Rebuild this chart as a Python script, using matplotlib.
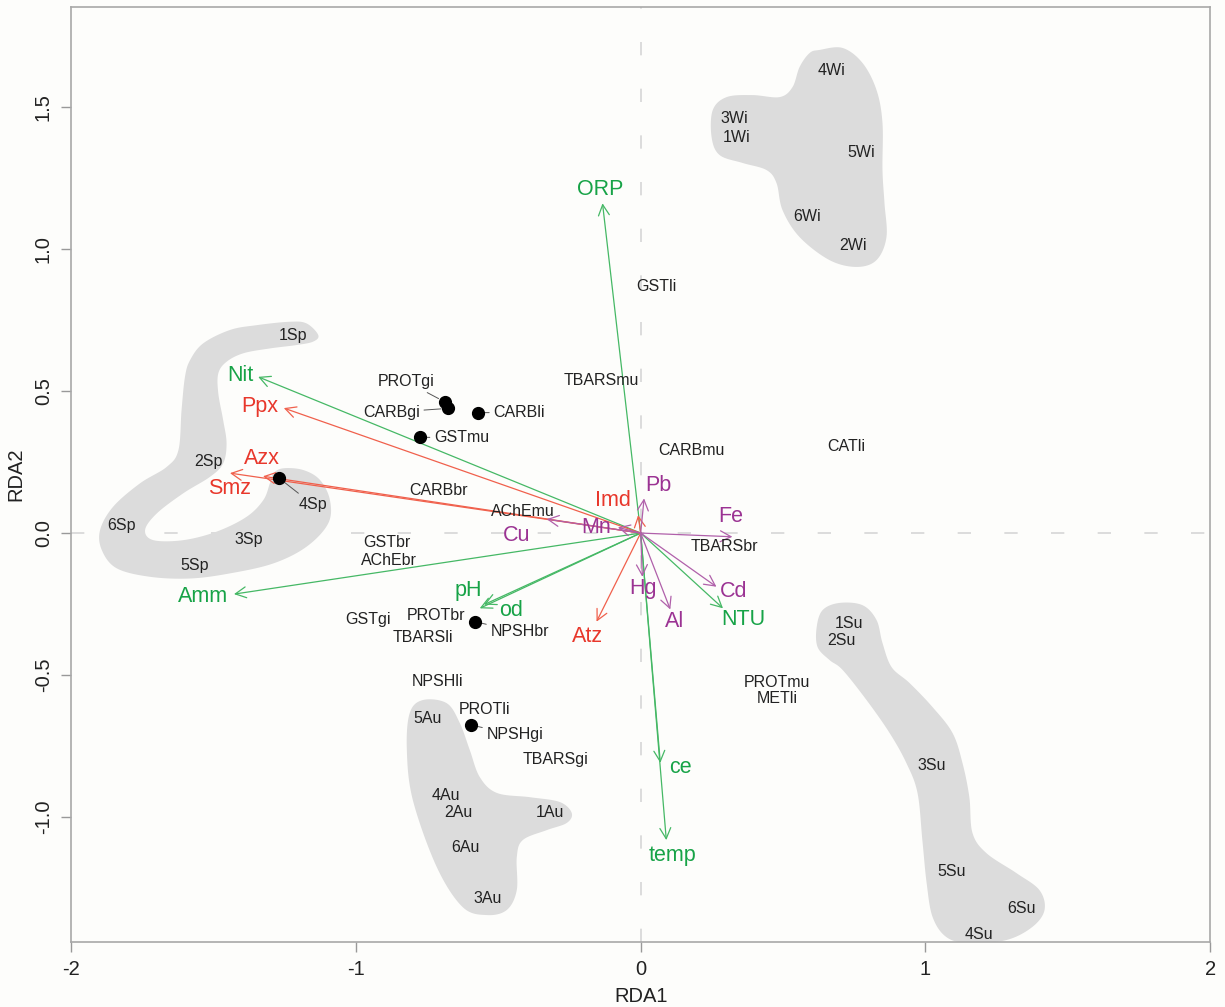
import numpy as np
import matplotlib
matplotlib.use("Agg")
import matplotlib.pyplot as plt

plt.rcParams["font.family"] = ["Liberation Sans", "DejaVu Sans"]
plt.rcParams["axes.unicode_minus"] = False

# environmental / pesticide / metal arrows (RDA1, RDA2 tips)
arrow_names = ["ORP", "Nit", "Amm", "pH", "od", "NTU", "ce", "temp",
               "Ppx", "Azx", "Smz", "Imd", "Atz",
               "Pb", "Fe", "Cd", "Al", "Hg", "Mn", "Cu"]
arrow_group = ["env"] * 8 + ["pest"] * 5 + ["metal"] * 7
arrow_x = [-0.134, -1.343, -1.428, -0.565, -0.55, 0.289, 0.069, 0.090,
           -1.253, -1.326, -1.442, -0.009, -0.155,
           0.012, 0.322, 0.266, 0.104, 0.006, -0.080, -0.330]
arrow_y = [1.161, 0.550, -0.215, -0.265, -0.252, -0.265, -0.809, -1.081,
           0.440, 0.200, 0.211, 0.063, -0.312,
           0.122, -0.013, -0.189, -0.269, -0.154, 0.020, 0.049]
arrow_lab_x = [-0.141, -1.407, -1.536, -0.606, -0.454, 0.359, 0.140, 0.111,
               -1.337, -1.331, -1.442, -0.097, -0.185,
               0.061, 0.318, 0.326, 0.119, 0.008, -0.155, -0.436]
arrow_lab_y = [1.208, 0.556, -0.222, -0.201, -0.271, -0.306, -0.826, -1.134,
               0.445, 0.263, 0.157, 0.116, -0.365,
               0.169, 0.057, -0.207, -0.312, -0.195, 0.020, -0.007]

# sampling sites (season labels)
site_names = ["1Sp", "2Sp", "3Sp", "4Sp", "5Sp", "6Sp",
              "1Wi", "2Wi", "3Wi", "4Wi", "5Wi", "6Wi",
              "1Su", "2Su", "3Su", "4Su", "5Su", "6Su",
              "1Au", "2Au", "3Au", "4Au", "5Au", "6Au"]
site_x = [-1.220, -1.518, -1.378, -1.152, -1.565, -1.822,
          0.338, 0.747, 0.330, 0.669, 0.774, 0.584,
          0.731, 0.704, 1.022, 1.186, 1.091, 1.336,
          -0.319, -0.641, -0.538, -0.685, -0.750, -0.614]
site_y = [0.697, 0.251, -0.022, 0.101, -0.113, 0.025,
          1.393, 1.014, 1.460, 1.628, 1.339, 1.114,
          -0.320, -0.379, -0.819, -1.412, -1.193, -1.321,
          -0.983, -0.983, -1.286, -0.925, -0.652, -1.107]

# biomarker responses
bio_names = ["GSTli", "TBARSmu", "CARBmu", "CATli", "CARBbr", "AChEmu",
             "GSTbr", "AChEbr", "TBARSbr", "GSTgi", "PROTbr", "TBARSli",
             "NPSHli", "PROTli", "TBARSgi", "PROTmu", "METli"]
bio_x = [0.055, -0.138, 0.178, 0.723, -0.711, -0.413,
         -0.892, -0.883, 0.295, -0.957, -0.719, -0.764,
         -0.715, -0.547, -0.298, 0.477, 0.481]
bio_y = [0.867, 0.536, 0.292, 0.306, 0.149, 0.075,
         -0.034, -0.095, -0.048, -0.304, -0.292, -0.369,
         -0.524, -0.621, -0.799, -0.525, -0.581]

# biomarkers shown as points with displaced labels
pt_names = ["PROTgi", "CARBgi", "CARBli", "GSTmu", "NPSHbr", "NPSHgi", "4Sp"]
pt_x = [-0.688, -0.676, -0.571, -0.775, -0.582, -0.594, -1.269]
pt_y = [0.462, 0.439, 0.424, 0.337, -0.312, -0.676, 0.193]
pt_lab_x = [-0.822, -0.875, -0.427, -0.629, -0.425, -0.442, None]
pt_lab_y = [0.533, 0.425, 0.424, 0.337, -0.348, -0.711, None]

# season hull outlines
hull_sp_x = [-1.132, -1.173, -1.232, -1.348, -1.442, -1.536, -1.582, -1.600,
             -1.612, -1.623, -1.664, -1.758, -1.852, -1.898, -1.892, -1.840,
             -1.723, -1.582, -1.442, -1.290, -1.173, -1.097, -1.091, -1.126,
             -1.185, -1.255, -1.290, -1.302, -1.325, -1.384, -1.489, -1.606,
             -1.711, -1.740, -1.699, -1.606, -1.512, -1.466, -1.454, -1.466,
             -1.483, -1.483, -1.454, -1.395, -1.302, -1.208, -1.150]
hull_sp_y = [0.697, 0.738, 0.744, 0.732, 0.715, 0.668, 0.609, 0.550,
             0.433, 0.292, 0.233, 0.175, 0.093, 0.011, -0.060, -0.124,
             -0.154, -0.160, -0.142, -0.107, -0.048, 0.034, 0.116, 0.187,
             0.222, 0.228, 0.210, 0.175, 0.116, 0.057, 0.005, -0.025,
             -0.025, 0.011, 0.069, 0.140, 0.198, 0.245, 0.316, 0.398,
             0.492, 0.562, 0.603, 0.633, 0.650, 0.662, 0.674]
hull_wi_x = [0.628, 0.709, 0.779, 0.828, 0.849, 0.849, 0.856, 0.863, 0.828,
             0.758, 0.663, 0.558, 0.498, 0.477, 0.442, 0.358, 0.277, 0.249,
             0.253, 0.302, 0.393, 0.488, 0.533, 0.558, 0.593]
hull_wi_y = [1.701, 1.708, 1.655, 1.560, 1.444, 1.278, 1.162, 1.042, 0.961,
             0.937, 0.961, 1.042, 1.137, 1.232, 1.278, 1.303, 1.331, 1.394,
             1.489, 1.535, 1.542, 1.535, 1.570, 1.641, 1.690]
hull_su_x = [0.698, 0.779, 0.828, 0.849, 0.881, 0.944, 1.025, 1.095, 1.130,
             1.154, 1.165, 1.214, 1.319, 1.400, 1.418, 1.375, 1.284, 1.154,
             1.074, 1.025, 1.004, 0.989, 0.972, 0.933, 0.874, 0.793, 0.709,
             0.663, 0.621, 0.618, 0.639]
hull_su_y = [-0.246, -0.254, -0.306, -0.387, -0.472, -0.528, -0.613, -0.704,
             -0.810, -0.930, -1.056, -1.127, -1.197, -1.257, -1.327, -1.387,
             -1.433, -1.444, -1.423, -1.352, -1.232, -1.081, -0.915, -0.810,
             -0.704, -0.588, -0.482, -0.447, -0.401, -0.331, -0.271]
hull_au_x = [-0.765, -0.681, -0.635, -0.600, -0.565, -0.505, -0.389, -0.284,
             -0.242, -0.260, -0.330, -0.414, -0.435, -0.435, -0.470, -0.540,
             -0.625, -0.716, -0.800, -0.821, -0.811]
hull_au_y = [-0.588, -0.599, -0.669, -0.764, -0.859, -0.915, -0.930, -0.947,
             -0.986, -1.021, -1.046, -1.081, -1.141, -1.257, -1.327, -1.345,
             -1.317, -1.176, -0.940, -0.764, -0.634]

line_col = {"env": "#45b865", "pest": "#f0604c", "metal": "#b060aa"}
text_col = {"env": "#17a347", "pest": "#e8372b", "metal": "#9b3393"}
dark = "#222222"
bg = "#fdfdfb"


def smooth_closed(xs, ys, n=12):
    # closed Catmull-Rom curve through the outline points
    p = np.column_stack([xs, ys])
    m = len(p)
    t = np.linspace(0, 1, n, endpoint=False)[:, None]
    out = []
    for i in range(m):
        p0, p1, p2, p3 = p[i - 1], p[i], p[(i + 1) % m], p[(i + 2) % m]
        seg = 0.5 * (2 * p1 + (-p0 + p2) * t
                     + (2 * p0 - 5 * p1 + 4 * p2 - p3) * t ** 2
                     + (-p0 + 3 * p1 - 3 * p2 + p3) * t ** 3)
        out.append(seg)
    return np.vstack(out)


fig = plt.figure(figsize=(12.25, 10.07), dpi=100, facecolor=bg)
ax = fig.add_axes([0.058, 0.0645, 0.930, 0.9285], facecolor=bg)

# zero lines
ax.axhline(0, color="#d6d6d6", lw=1.2, ls=(0, (8, 20)), zorder=0.5)
ax.axvline(0, color="#d6d6d6", lw=1.2, ls=(0, (8, 20)), zorder=0.5)

# season hulls
for hx, hy in [(hull_sp_x, hull_sp_y), (hull_wi_x, hull_wi_y),
               (hull_su_x, hull_su_y), (hull_au_x, hull_au_y)]:
    pts = smooth_closed(hx, hy)
    ax.fill(pts[:, 0], pts[:, 1], color="#dcdcdc", lw=0, zorder=1)

# arrows
for name, g, x, y, lx, ly in zip(arrow_names, arrow_group, arrow_x, arrow_y,
                                 arrow_lab_x, arrow_lab_y):
    ax.annotate("", xy=(x, y), xytext=(0, 0),
                arrowprops=dict(arrowstyle="->,head_length=0.55,head_width=0.28",
                                color=line_col[g], lw=0.9, mutation_scale=14,
                                shrinkA=0, shrinkB=0), zorder=3)
    ax.text(lx, ly, name, color=text_col[g], fontsize=15.5,
            ha="center", va="center", zorder=4)

# site labels
for name, x, y in zip(site_names, site_x, site_y):
    if name == "4Sp":
        continue
    ax.text(x, y, name, color=dark, fontsize=11.5, ha="center", va="center",
            zorder=4)

# biomarker labels
for name, x, y in zip(bio_names, bio_x, bio_y):
    ax.text(x, y, name, color=dark, fontsize=11.5, ha="center", va="center",
            zorder=4)

# points with leader lines
for name, x, y, lx, ly in zip(pt_names, pt_x, pt_y, pt_lab_x, pt_lab_y):
    ax.plot(x, y, "o", color="black", ms=8.5, zorder=5)
    if lx is None:
        i = site_names.index(name)
        lx, ly = site_x[i], site_y[i]
    ax.annotate(name, xy=(x, y), xytext=(lx, ly), color=dark, fontsize=11.5,
                ha="center", va="center", zorder=4,
                arrowprops=dict(arrowstyle="-", color="#555555", lw=0.7,
                                shrinkA=1, shrinkB=5))

ax.set_xlim(-2, 2)
ax.set_ylim(-1.44, 1.852)
ax.set_xticks([-2, -1, 0, 1, 2])
ax.set_xticklabels(["-2", "-1", "0", "1", "2"])
ax.set_yticks([-1.0, -0.5, 0.0, 0.5, 1.0, 1.5])
ax.set_yticklabels(["-1.0", "-0.5", "0.0", "0.5", "1.0", "1.5"],
                   rotation=90, va="center")
ax.tick_params(direction="out", length=7, width=1, color="#999999",
               labelcolor=dark, labelsize=14.5, pad=6)
for s in ax.spines.values():
    s.set_color("#a8a8a8")
    s.set_linewidth(1.2)

ax.set_xlabel("RDA1", fontsize=14.5, color=dark, labelpad=6)
ax.set_ylabel("RDA2", fontsize=14.5, color=dark, labelpad=6)

fig.savefig("out.png", dpi=100, facecolor=bg)
